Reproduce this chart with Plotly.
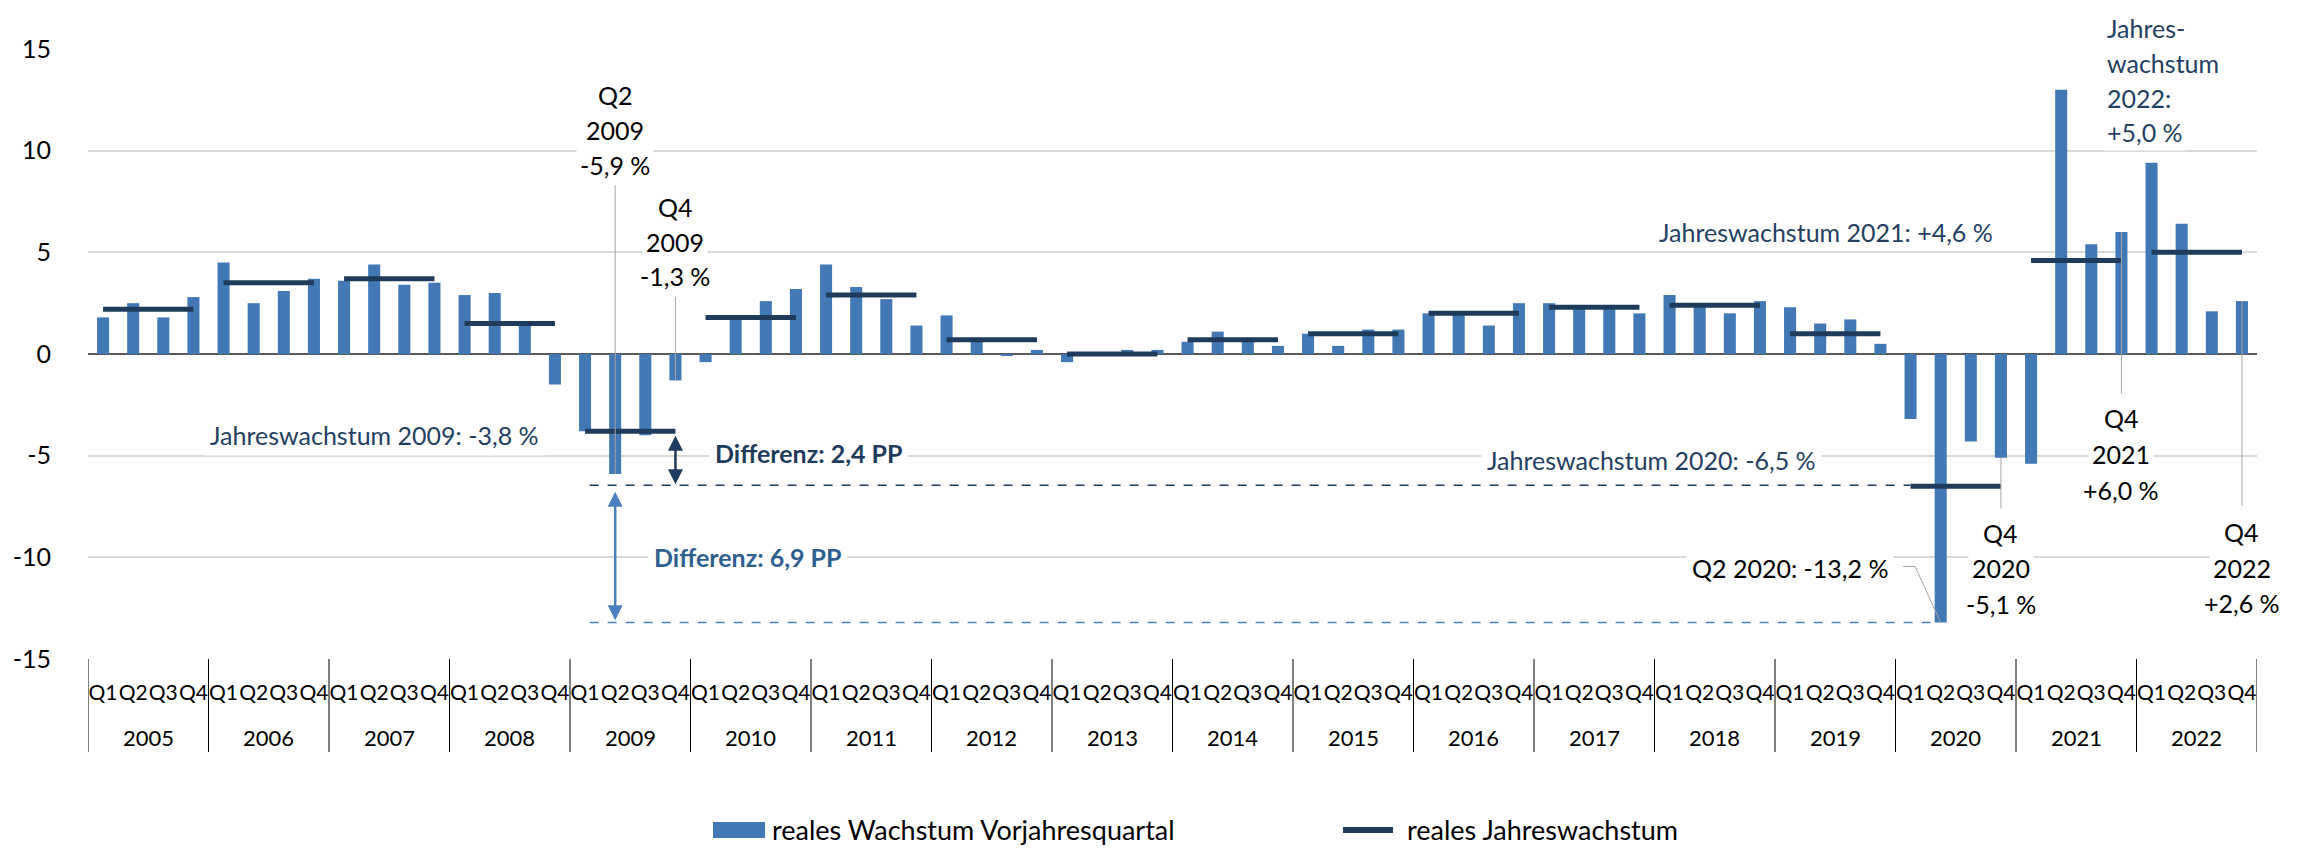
import plotly.graph_objects as go

# ---------------- data ----------------
years = ["2005", "2006", "2007", "2008", "2009", "2010", "2011", "2012", "2013",
         "2014", "2015", "2016", "2017", "2018", "2019", "2020", "2021", "2022"]
quarters = ["Q1", "Q2", "Q3", "Q4"]

quarterly_growth = [
    1.8, 2.5, 1.8, 2.8,     # 2005
    4.5, 2.5, 3.1, 3.7,     # 2006
    3.6, 4.4, 3.4, 3.5,     # 2007
    2.9, 3.0, 1.6, -1.5,    # 2008
    -3.8, -5.9, -4.0, -1.3, # 2009
    -0.4, 1.8, 2.6, 3.2,    # 2010
    4.4, 3.3, 2.7, 1.4,     # 2011
    1.9, 0.7, -0.1, 0.2,    # 2012
    -0.4, 0.1, 0.2, 0.2,    # 2013
    0.6, 1.1, 0.6, 0.4,     # 2014
    1.0, 0.4, 1.2, 1.2,     # 2015
    2.0, 2.0, 1.4, 2.5,     # 2016
    2.5, 2.3, 2.3, 2.0,     # 2017
    2.9, 2.4, 2.0, 2.6,     # 2018
    2.3, 1.5, 1.7, 0.5,     # 2019
    -3.2, -13.2, -4.3, -5.1,# 2020
    -5.4, 13.0, 5.4, 6.0,   # 2021
    9.4, 6.4, 2.1, 2.6,     # 2022
]
annual_growth = [2.2, 3.5, 3.7, 1.5, -3.8, 1.8, 2.9, 0.7, 0.0,
                 0.7, 1.0, 2.0, 2.3, 2.4, 1.0, -6.5, 4.6, 5.0]

y_ticks = [-15, -10, -5, 0, 5, 10, 15]
Y_MIN, Y_MAX = -15, 15

# ---------------- styles ----------------
BAR = "#4279B5"
NAVY = "#1F3B5C"
TXT_NAVY = "#243F62"
LIGHT = "#4A80BE"
DIFF2 = "#2E5F8F"
GRAY = "#A6A6A6"
FONT = "Lato"

# layout in pixels
L, R, T, B = 80, 51, 41, 199
PW, PH = 2300 - L - R, 850 - T - B
px = lambda v: (v - L) / PW
py = lambda v: (850 - B - v) / PH

cats = ["%s %s" % (q, y) for y in years for q in quarters]
q_labels = [q for _ in years for q in quarters]

fig = go.Figure()
fig.add_trace(go.Bar(x=cats, y=quarterly_growth, marker_color=BAR,
                     marker_line_width=0, name="reales Wachstum Vorjahresquartal",
                     showlegend=False))
for yr, val in zip(years, annual_growth):
    fig.add_trace(go.Scatter(x=["Q1 " + yr, "Q4 " + yr], y=[val, val], mode="lines",
                             line=dict(color=NAVY, width=5), showlegend=False,
                             name="reales Jahreswachstum", hoverinfo="skip"))

def idx(year, q):
    return 4 * years.index(year) + quarters.index(q)

shapes = []
def line(x0, y0, x1, y1, color=GRAY, width=1, dash="solid"):
    shapes.append(dict(type="line", xref="x", yref="y", x0=x0, y0=y0, x1=x1, y1=y1,
                       line=dict(color=color, width=width, dash=dash), layer="above"))

# dashed reference lines
line(idx("2009", "Q2") - 0.85, -6.45, idx("2020", "Q1"), -6.45, NAVY, 1.5, "dash")
line(idx("2009", "Q2") - 0.85, -13.2, idx("2020", "Q2") - 0.3, -13.2, LIGHT, 1.5, "dash")

# leader lines
line(idx("2009", "Q2"), 8.3, idx("2009", "Q2"), -5.9)
line(idx("2009", "Q4"), 2.8, idx("2009", "Q4"), -1.3)
line(idx("2020", "Q2") - 1.25, -10.45, idx("2020", "Q2") - 0.85, -10.45)
line(idx("2020", "Q2") - 0.85, -10.45, idx("2020", "Q2"), -13.2)
line(idx("2020", "Q4"), -5.1, idx("2020", "Q4"), -7.6)
line(idx("2021", "Q4"), 6.0, idx("2021", "Q4"), -1.95)
line(idx("2022", "Q4"), 2.6, idx("2022", "Q4"), -7.45)

# year group dividers below the axis
for k in range(len(years) + 1):
    shapes.append(dict(type="line", xref="x", yref="paper", x0=4 * k - 0.5, x1=4 * k - 0.5,
                       y0=0, y1=py(744), line=dict(color="#000000", width=1)))

ann = []
def text(x, y, s, color="#000000", bold=False, xanchor="center", bg="white", size=25, pad=5):
    # y given in data units; placed via paper coordinates so it may sit above the axis range
    ann.append(dict(x=x, y=(y - Y_MIN) / (Y_MAX - Y_MIN), xref="x", yref="paper",
                    text=("<b>%s</b>" % s) if bold else s,
                    showarrow=False, xanchor=xanchor, yanchor="middle",
                    align=xanchor if xanchor != "center" else "center",
                    font=dict(family=FONT, size=size, color=color),
                    bgcolor=bg, borderpad=pad))

def mtext(x, ys, lines, color="#000000", xanchor="center"):
    for yv, s in zip(ys, lines):
        text(x, yv, s, color, xanchor=xanchor, pad=3)

mtext(idx("2009", "Q2"), [12.75, 11.03, 9.31], ["Q2", "2009", "-5,9 %"])
mtext(idx("2009", "Q4"), [7.23, 5.53, 3.84], ["Q4", "2009", "-1,3 %"])
text(9.0, -4.0, "Jahreswachstum 2009: -3,8 %", TXT_NAVY)
text(20.1, -4.87, "Differenz: 2,4 PP", NAVY, bold=True, xanchor="left")
text(18.1, -9.98, "Differenz: 6,9 PP", DIFF2, bold=True, xanchor="left")
text(51.4, -5.2, "Jahreswachstum 2020: -6,5 %", TXT_NAVY)
text(57.2, 6.0, "Jahreswachstum 2021: +4,6 %", TXT_NAVY, bg=None)
text(56.0, -10.5, "Q2 2020: -13,2 %")
mtext(idx("2020", "Q4"), [-8.8, -10.52, -12.3], ["Q4", "2020", "-5,1 %"])
mtext(idx("2021", "Q4"), [-3.15, -4.93, -6.67], ["Q4", "2021", "+6,0 %"])
mtext(idx("2022", "Q4"), [-8.75, -10.5, -12.25], ["Q4", "2022", "+2,6 %"])
mtext(66.4, [16.05, 14.3, 12.57, 10.9], ["Jahres-", "wachstum", "2022:", "+5,0 %"],
      TXT_NAVY, xanchor="left")

# double arrows
def darrow(x, y0, y1, color, width):
    ann.append(dict(x=x, y=y1, ax=x, ay=y0, xref="x", yref="y", axref="x", ayref="y",
                    text="", showarrow=True, arrowhead=2, startarrowhead=2,
                    arrowside="end+start", arrowsize=1.2, arrowwidth=width,
                    arrowcolor=color))
darrow(idx("2009", "Q4"), -3.95, -6.4, NAVY, 2.5)
darrow(idx("2009", "Q2"), -6.7, -13.1, LIGHT, 2.5)

# year labels (second row of the category axis)
for k, yr in enumerate(years):
    ann.append(dict(x=4 * k + 1.5, y=py(729), xref="x", yref="paper", text=yr,
                    showarrow=False, xanchor="center", yanchor="middle",
                    font=dict(family=FONT, size=22, color="#000000")))

# ---------------- manual legend ----------------
shapes.append(dict(type="rect", xref="paper", yref="paper", x0=px(705), x1=px(757),
                   y0=py(830), y1=py(814), fillcolor=BAR, line=dict(width=0)))
shapes.append(dict(type="line", xref="paper", yref="paper", x0=px(1335), x1=px(1385),
                   y0=py(822), y1=py(822), line=dict(color=NAVY, width=6)))
for xl, s in [(762, "reales Wachstum Vorjahresquartal"), (1397, "reales Jahreswachstum")]:
    ann.append(dict(x=px(xl), y=py(821), xref="paper", yref="paper", text=s,
                    showarrow=False, xanchor="left", yanchor="middle",
                    font=dict(family=FONT, size=27, color="#000000")))

fig.update_layout(
    width=2300, height=850, paper_bgcolor="white", plot_bgcolor="white",
    margin=dict(l=L, r=R, t=T, b=B, autoexpand=False),
    bargap=0.6, showlegend=False,
    font=dict(family=FONT, size=22, color="#000000"),
    shapes=shapes, annotations=ann,
)
fig.update_yaxes(range=[Y_MIN, Y_MAX], tickvals=y_ticks, ticktext=[str(v) for v in y_ticks],
                 showgrid=True, gridcolor="#D9D9D9", gridwidth=1.5,
                 zeroline=True, zerolinecolor="#595959", zerolinewidth=1.5,
                 tickfont=dict(family=FONT, size=25, color="#000000"),
                 ticks="", ticklabelstandoff=36, showline=False)
fig.update_xaxes(type="category", categoryorder="array", categoryarray=cats,
                 range=[-0.5, len(cats) - 0.5],
                 tickmode="array", tickvals=cats, ticktext=q_labels,
                 showgrid=False, tickangle=0, ticklabelstandoff=19,
                 tickfont=dict(family=FONT, size=21, color="#000000"),
                 ticks="", showline=False)

fig.write_html("out.html")
